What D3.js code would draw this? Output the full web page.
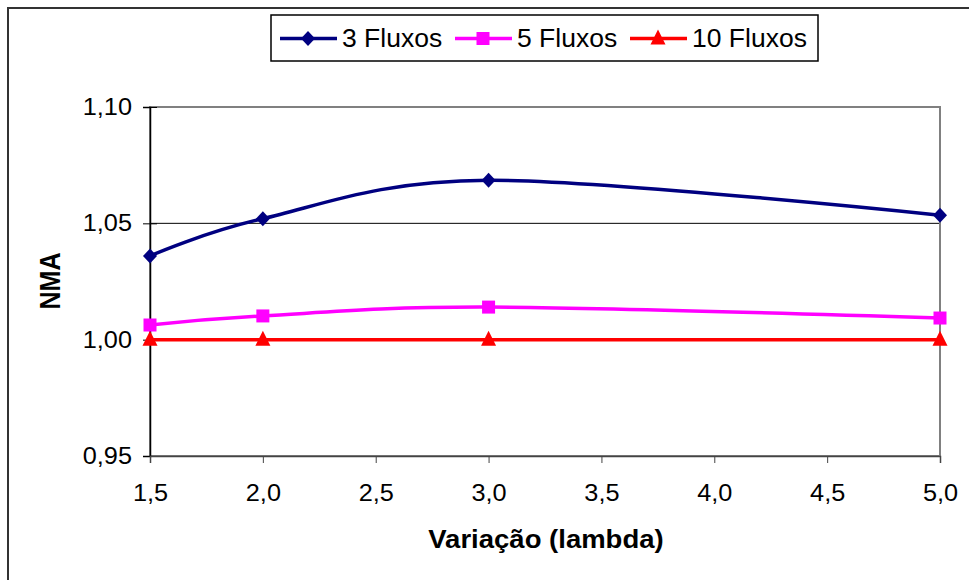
<!DOCTYPE html>
<html>
<head>
<meta charset="utf-8">
<script src="https://cdn.jsdelivr.net/npm/d3@7"></script>
<style>
  body { margin: 0; background: #fff; }
  text { font-family: Arial, "Liberation Sans", sans-serif; fill: #000; }
</style>
</head>
<body>
<svg id="chart" width="969" height="580"></svg>
<script>
// data
const lambdas = [1.5, 2.0, 3.0, 5.0];
const flux3 = [1.036, 1.052, 1.0685, 1.0535];
const flux5 = [1.0063, 1.0102, 1.014, 1.0093];
const flux10 = [1.0, 1.0, 1.0, 1.0];
const seriesNames = ['3 Fluxos', '5 Fluxos', '10 Fluxos'];
const xTicks = [1.5, 2.0, 2.5, 3.0, 3.5, 4.0, 4.5, 5.0];
const yTicks = [0.95, 1.00, 1.05, 1.10];

const svg = d3.select('#chart');
const fmt = d => d3.format('.1f')(d).replace('.', ',');
const fmtY = d => d3.format('.2f')(d).replace('.', ',');

// text in the original is a little wider than Arial, stretch it
const widen = (sel, k) => sel.each(function () {
  const w = this.getComputedTextLength();
  d3.select(this).attr('textLength', w * k).attr('lengthAdjust', 'spacingAndGlyphs');
});

// custom marker shapes (Excel-like)
const diamond = { draw(ctx) { ctx.moveTo(0, -7.5); ctx.lineTo(7, 0); ctx.lineTo(0, 7.5); ctx.lineTo(-7, 0); ctx.closePath(); } };
const square = { draw(ctx) { ctx.rect(-6.5, -6.5, 13, 13); } };
const triangle = { draw(ctx) { ctx.moveTo(0, -9); ctx.lineTo(7.5, 6); ctx.lineTo(-7.5, 6); ctx.closePath(); } };

// outer chart border
svg.append('rect')
  .attr('x', 8).attr('y', 8).attr('width', 980).attr('height', 600)
  .attr('fill', 'none').attr('stroke', '#333').attr('stroke-width', 2);

const x = d3.scaleLinear().domain([1.5, 5.0]).range([150, 940]);
const y = d3.scaleLinear().domain([0.95, 1.10]).range([456, 107]);

// gridlines
svg.append('g').selectAll('line').data([1.00, 1.05]).join('line')
  .attr('x1', x(1.5)).attr('x2', x(5.0))
  .attr('y1', d => y(d)).attr('y2', d => y(d))
  .attr('stroke', '#000').attr('stroke-width', 1);

// plot area border
svg.append('rect')
  .attr('x', x(1.5)).attr('y', y(1.10))
  .attr('width', x(5.0) - x(1.5)).attr('height', y(0.95) - y(1.10))
  .attr('fill', 'none').attr('stroke', '#808080').attr('stroke-width', 2);

// y axis
const yAxis = svg.append('g')
  .attr('transform', `translate(${x(1.5)},0)`)
  .call(d3.axisLeft(y).tickValues(yTicks).tickFormat(fmtY).tickSize(7).tickPadding(11));
yAxis.select('.domain').attr('stroke', '#000').attr('stroke-width', 1.5);
yAxis.selectAll('.tick line').attr('x2', 7).attr('x1', -7).attr('stroke', '#000');
yAxis.selectAll('text').attr('font-size', 23).attr('font-family', null).call(widen, 1.1);

// x axis
const xAxis = svg.append('g')
  .attr('transform', `translate(0,${y(0.95)})`)
  .call(d3.axisBottom(x).tickValues(xTicks).tickFormat(fmt).tickSize(7).tickPadding(22));
xAxis.select('.domain').attr('stroke', '#444').attr('stroke-width', 1.5);
xAxis.selectAll('.tick line').attr('stroke', '#444');
xAxis.selectAll('text').attr('font-size', 23).call(widen, 1.1);

// axis titles
svg.append('text')
  .attr('x', 546).attr('y', 548)
  .attr('text-anchor', 'middle')
  .attr('font-size', 25).attr('font-weight', 'bold')
  .text('Variação (lambda)')
  .call(widen, 1.1);

svg.append('text')
  .attr('transform', 'translate(60,281) scale(1.15,1) rotate(-90)')
  .attr('text-anchor', 'middle')
  .attr('font-size', 25).attr('font-weight', 'bold')
  .text('NMA');

// series
const series = [
  { name: seriesNames[0], values: flux3, color: '#000080', symbol: diamond },
  { name: seriesNames[1], values: flux5, color: '#FF00FF', symbol: square },
  { name: seriesNames[2], values: flux10, color: '#FF0000', symbol: triangle }
];

const line = d3.line()
  .x((d, i) => x(lambdas[i]))
  .y(d => y(d))
  .curve(d3.curveCardinal.tension(0));

const marker = (s) => d3.symbol().type(s.symbol)();

// draw bottom series first so navy sits on top
series.slice().reverse().forEach(s => {
  svg.append('path')
    .attr('d', line(s.values))
    .attr('fill', 'none')
    .attr('stroke', s.color)
    .attr('stroke-width', 3.5);

  svg.append('g').selectAll('path').data(s.values).join('path')
    .attr('transform', (d, i) => `translate(${x(lambdas[i])},${y(d)})`)
    .attr('d', marker(s))
    .attr('fill', s.color);
});

// legend
const legend = svg.append('g');
legend.append('rect')
  .attr('x', 271).attr('y', 15).attr('width', 547).attr('height', 46)
  .attr('fill', '#fff').attr('stroke', '#000').attr('stroke-width', 1.5);

const legendX = [280, 455, 630];
series.forEach((s, i) => {
  const g = legend.append('g').attr('transform', `translate(${legendX[i]},38.5)`);
  g.append('line')
    .attr('x1', 0).attr('x2', 57)
    .attr('stroke', s.color).attr('stroke-width', 3.5);
  g.append('path')
    .attr('transform', 'translate(28,0)')
    .attr('d', marker(s))
    .attr('fill', s.color);
  g.append('text')
    .attr('x', 62).attr('y', 8)
    .attr('font-size', 25)
    .text(s.name)
    .call(widen, 1.06);
});
</script>
</body>
</html>
